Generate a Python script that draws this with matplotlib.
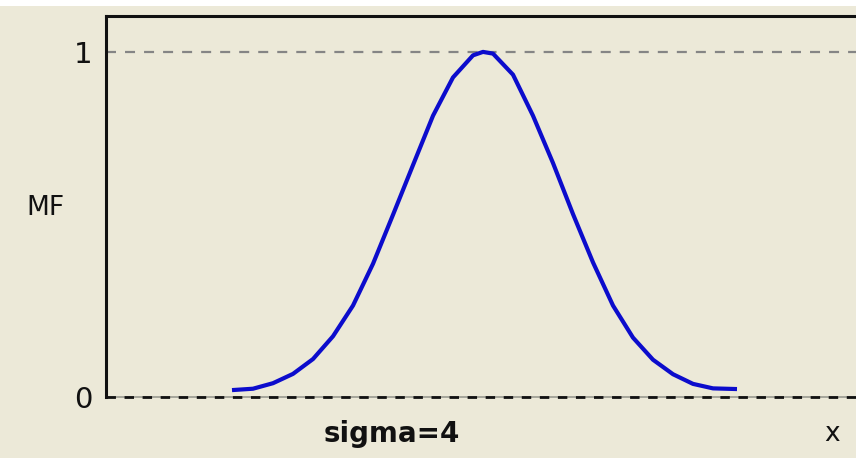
import matplotlib
matplotlib.use("Agg")
import matplotlib.pyplot as plt
from matplotlib.patches import Rectangle

plt.rcParams['font.family'] = ['DejaVu Sans']
plt.rcParams['lines.scale_dashes'] = False

# Membership function curve
x_vals = [-12.55, -11.5, -10.5, -9.5, -8.5, -7.5, -6.5, -5.5, -4.5, -3.5,
          -2.5, -1.5, -0.5, 0.0, 0.5, 1.5, 2.5, 3.5, 4.5, 5.5, 6.5,
          7.5, 8.5, 9.5, 10.5, 11.5, 12.7]
mf_vals = [0.020, 0.024, 0.040, 0.067, 0.110, 0.176, 0.265, 0.386, 0.528, 0.672,
           0.815, 0.926, 0.990, 1.000, 0.995, 0.934, 0.815, 0.678, 0.530, 0.390, 0.265,
           0.172, 0.108, 0.066, 0.038, 0.025, 0.023]
y_ticks = [0, 1]
y_tick_labels = ["0", "1"]
y_label = "MF"
x_label = "x"
title_text = "sigma=4"

W, H = 856, 458
fig = plt.figure(figsize=(W / 100, H / 100), dpi=100)
fig.patch.set_facecolor("white")
bg = "#ECE9D8"
fig.patches.append(Rectangle((0, 0), 1, 1 - 6 / H, transform=fig.transFigure,
                             facecolor=bg, edgecolor="none", zorder=-10))

left, right, top, bottom = 106 / W, 860 / W, 1 - 16 / H, 1 - 397 / H
ax = fig.add_axes([left, bottom, right - left, top - bottom])
ax.set_facecolor(bg)
ax.set_xlim(-18.85, 18.85)
ax.set_ylim(0, 1.104)

for s in ["right", "bottom"]:
    ax.spines[s].set_visible(False)
for s in ["left", "top"]:
    ax.spines[s].set_linewidth(2.2)
    ax.spines[s].set_color("#111111")

# dashed reference lines
ax.axhline(1, color="#858585", lw=1.6, linestyle=(0, (7.2, 6.5)), zorder=1)
ax.axhline(0, color="#9a9a90", lw=1.2, zorder=1, clip_on=False)
ax.axhline(0, color="#111111", lw=2.0, linestyle=(0, (6.8, 6.2)), zorder=2, clip_on=False)

ax.plot(x_vals, mf_vals, color="#0c0ccc", lw=3.0, solid_joinstyle="round",
        solid_capstyle="butt", zorder=3)

ax.set_xticks([])
ax.set_yticks(y_ticks)
ax.set_yticklabels(y_tick_labels, fontsize=21, color="#111111")
ax.tick_params(axis="y", length=0, pad=10)

fig.text(45 / W, 1 - 208 / H, y_label, fontsize=19, ha="center", va="center", color="#111111")
fig.text(392 / W, 1 - 434 / H, title_text, fontsize=20, fontweight="bold",
         ha="center", va="center", color="#111111")
fig.text(832 / W, 1 - 434 / H, x_label, fontsize=19, ha="center", va="center", color="#111111")

fig.savefig("out.png", dpi=100, facecolor=fig.get_facecolor())
